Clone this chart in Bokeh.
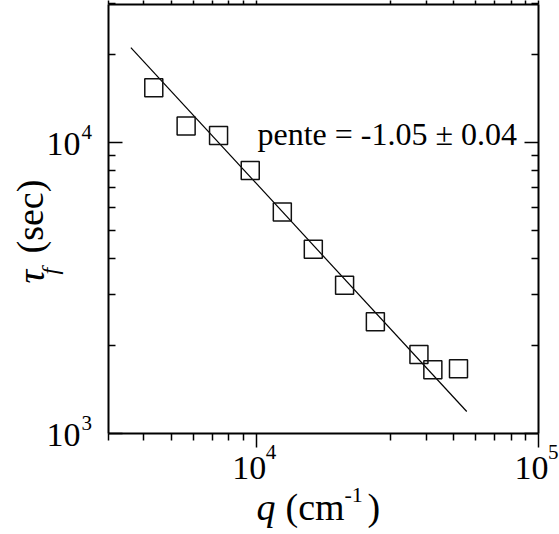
import numpy as np
from math import pi
from bokeh.plotting import figure
from bokeh.models import LogAxis, FixedTicker, Label, Range1d, ColumnDataSource, CustomJSTickFormatter
from bokeh.embed import file_html
from bokeh.resources import INLINE

# ---- data ----
q_values = [4340, 5650, 7360, 9530, 12380, 15940, 20570, 26440, 37720, 42250, 52080]
tau_values = [15420, 11390, 10570, 8010, 5770, 4300, 3230, 2420, 1870, 1655, 1670]
q_fit = [3600, 55700]
tau_fit = [21200, 1190]
fit_text = "pente = -1.05 \u00b1 0.04"
x_major = [1e4, 1e5]
y_major = [1e3, 1e4]
x_minor = [m * 10.0 ** e for e in (3, 4) for m in range(3, 10)]
y_minor = [m * 10.0 ** e for e in (3, 4) for m in range(2, 10)]
x_tick_mant = ["10", "10"]
x_tick_exp = ["4", "5"]
y_tick_mant = ["10", "10"]
y_tick_exp = ["3", "4"]

# box (axes frame) data limits
X0, X1 = 3000, 1e5
Y0, Y1 = 1000, 29800

# layout in pixels
W, H = 559, 534
BL, BR, BT, BB = 108, 538, 4, 433   # box edges (pixels from top-left)
FONT = "Liberation Serif"
MID = 0.34   # em offset of text middle above the baseline

lx0, lx1 = np.log10(X0), np.log10(X1)
ly0, ly1 = np.log10(Y0), np.log10(Y1)
ppx = (BR - BL) / (lx1 - lx0)
ppy = (BB - BT) / (ly1 - ly0)
x_full = (10 ** (lx0 - BL / ppx), 10 ** (lx1 + (W - BR) / ppx))
y_full = (10 ** (ly0 - (H - BB) / ppy), 10 ** (ly1 + BT / ppy))


def px(v):
    return BL + (np.log10(v) - lx0) * ppx


def py(v):
    return BB - (np.log10(v) - ly0) * ppy


p = figure(width=W, height=H, x_axis_type="log", y_axis_type="log",
           x_range=Range1d(*x_full), y_range=Range1d(*y_full),
           output_backend="svg", toolbar_location=None,
           min_border_left=0, min_border_right=0,
           min_border_top=0, min_border_bottom=0)
p.grid.visible = False
p.outline_line_color = None
p.background_fill_color = "white"
p.border_fill_color = "white"

p.add_layout(LogAxis(), "above")
p.add_layout(LogAxis(), "right")

p.xaxis[0].fixed_location = Y0
p.xaxis[1].fixed_location = Y1
p.yaxis[0].fixed_location = X0
p.yaxis[1].fixed_location = X1

for ax in p.xaxis:
    ax.ticker = FixedTicker(ticks=x_major, minor_ticks=x_minor)
    ax.bounds = (X0, X1)
for ax in p.yaxis:
    ax.ticker = FixedTicker(ticks=y_major, minor_ticks=y_minor)
    ax.bounds = (Y0, Y1)
for ax in p.xaxis + p.yaxis:
    ax.formatter = CustomJSTickFormatter(code="return ''")
    ax.major_label_text_font_size = "1px"
    ax.major_label_standoff = 0
    ax.axis_label = None
    ax.axis_line_width = 2
    ax.axis_line_color = "black"
    ax.major_tick_in = 14
    ax.major_tick_out = 0
    ax.minor_tick_in = 7
    ax.minor_tick_out = 0
    ax.major_tick_line_width = 1.5
    ax.minor_tick_line_width = 1.5
    ax.major_tick_line_color = "black"
    ax.minor_tick_line_color = "black"

src = ColumnDataSource(dict(q=q_values, tau=tau_values))
p.line(q_fit, tau_fit, line_color="black", line_width=1.2)
p.scatter("q", "tau", source=src, marker="square", size=18,
          fill_color=None, line_color="#111111", line_width=1.5)


def lab(text, x, y, size, style="normal", rotated=False):
    """x, y: pixel position from the top-left of the chart of the text start on its baseline."""
    off = MID * size
    if rotated:
        sx, sy, angle = x - off, H - y, pi / 2
    else:
        sx, sy, angle = x, H - (y - off), 0
    p.add_layout(Label(x=sx, y=sy, x_units="screen", y_units="screen", text=text,
                       text_font=FONT, text_font_size=f"{size}px",
                       text_font_style=style, text_color="black",
                       text_align="left", text_baseline="middle", angle=angle))


# fit annotation
lab(fit_text, 257, 144.5, 32)

# y tick labels
for v, m, e in zip(y_major, y_tick_mant, y_tick_exp):
    b = py(v) + 13.3
    lab(m, 46, b, 34)
    lab(e, 81, b - 17, 21)

# x tick labels
for v, m, e in zip(x_major, x_tick_mant, x_tick_exp):
    c = px(v)
    lab(m, c - 24, 479, 34)
    lab(e, c + 9.5, 479 - 20, 21)

# x axis label: q (cm^-1)
lab("q", 256, 519, 38, "italic")
lab("(cm", 285, 519, 38)
lab("-1", 344, 502, 22)
lab(")", 367, 519, 38)

# y axis label: tau_f (sec)
lab("\u03c4", 43, 283, 38, "italic", True)
lab("f", 58, 274, 24, "italic", True)
lab("(sec)", 42, 253, 38, "normal", True)

open("out.html", "w").write(file_html(p, INLINE))
